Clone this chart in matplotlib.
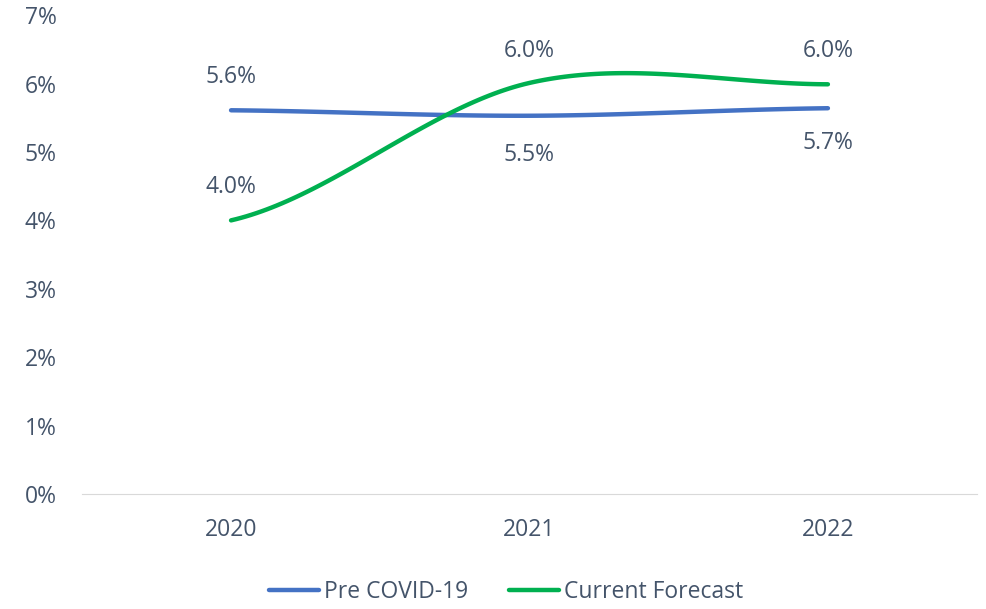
import matplotlib.pyplot as plt
import numpy as np

plt.rcParams['font.family'] = ['Open Sans', 'DejaVu Sans']

years = ["2020", "2021", "2022"]
pre_covid = [5.61, 5.53, 5.64]
current = [4.0, 6.01, 5.99]
pre_labels = ["5.6%", "5.5%", "5.7%"]
cur_labels = ["4.0%", "6.0%", "6.0%"]

txt = '#44546A'
fs = 16.5


def smooth(y, n=60):
    # catmull-rom style smoothing like excel's smoothed line
    y = np.asarray(y, float)
    p = np.concatenate([[y[0]], y, [y[-1]]])
    xs, ys = [], []
    for i in range(len(y) - 1):
        p0, p1, p2, p3 = p[i], p[i + 1], p[i + 2], p[i + 3]
        t = np.linspace(0, 1, n)
        m1 = (p2 - p0) / 2
        m2 = (p3 - p1) / 2
        h00 = 2 * t**3 - 3 * t**2 + 1
        h10 = t**3 - 2 * t**2 + t
        h01 = -2 * t**3 + 3 * t**2
        h11 = t**3 - t**2
        xs.append(i + t)
        ys.append(h00 * p1 + h10 * m1 + h01 * p2 + h11 * m2)
    return np.concatenate(xs), np.concatenate(ys)


fig = plt.figure(figsize=(9.86, 6.09), dpi=100)
ax = fig.add_axes([0.083, 0.189, 0.908, 0.786])

x1, y1 = smooth(pre_covid)
x2, y2 = smooth(current)
ax.plot(x1, y1, color='#4472C4', lw=3.2, solid_capstyle='round', label='Pre COVID-19')
ax.plot(x2, y2, color='#00B050', lw=3.2, solid_capstyle='round', label='Current Forecast')

# data labels
pre_off = [24, -28, -25]
cur_off = [24, 23, 24]
for i in range(3):
    ax.annotate(pre_labels[i], (i, pre_covid[i]), xytext=(0, pre_off[i]), textcoords='offset points',
                ha='center', va='center', fontsize=fs, color=txt)
    ax.annotate(cur_labels[i], (i, current[i]), xytext=(0, cur_off[i]), textcoords='offset points',
                ha='center', va='center', fontsize=fs, color=txt)

ax.set_xlim(-0.5, 2.5)
ax.set_ylim(0, 7)
ax.set_xticks(range(3))
ax.set_xticklabels(years)
ax.set_yticks(range(8))
ax.set_yticklabels([f"{v}%" for v in range(8)])
ax.tick_params(axis='both', length=0, labelsize=fs, labelcolor=txt)
ax.tick_params(axis='x', pad=17)
ax.tick_params(axis='y', pad=18)
for s in ['top', 'right', 'left']:
    ax.spines[s].set_visible(False)
ax.spines['bottom'].set_color('#D9D9D9')

fig.legend(loc='lower center', bbox_to_anchor=(0.513, -0.026), ncol=2, frameon=False,
           fontsize=fs, labelcolor=txt, handlelength=2.2, handletextpad=0.2, columnspacing=1.8)

fig.savefig('out.png', dpi=100)
